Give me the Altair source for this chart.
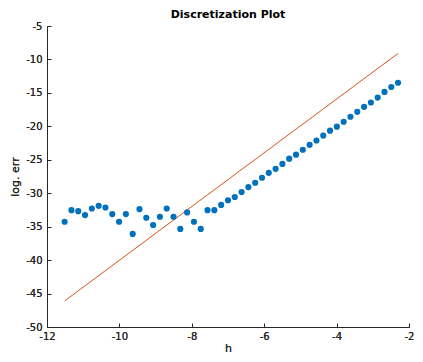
import altair as alt
import pandas as pd

h_vals = [-11.513, -11.325, -11.137, -10.949, -10.761, -10.573, -10.385, -10.197, -10.009, -9.821,
          -9.633, -9.445, -9.257, -9.069, -8.881, -8.693, -8.505, -8.317, -8.129, -7.941,
          -7.753, -7.565, -7.377, -7.189, -7.001, -6.813, -6.625, -6.437, -6.249, -6.061,
          -5.873, -5.685, -5.497, -5.309, -5.121, -4.933, -4.745, -4.557, -4.369, -4.181,
          -3.993, -3.805, -3.617, -3.429, -3.241, -3.053, -2.865, -2.677, -2.489, -2.303]
err_vals = [-34.26, -32.53, -32.68, -33.27, -32.28, -31.89, -32.13, -33.12, -34.26, -33.12,
            -36.08, -32.38, -33.67, -34.75, -33.52, -32.28, -33.52, -35.34, -32.87, -34.26,
            -35.34, -32.53, -32.53, -31.75, -31.05, -30.56, -29.82, -29.08, -28.43, -27.69,
            -26.95, -26.36, -25.62, -24.83, -24.24, -23.50, -22.76, -22.12, -21.38, -20.65,
            -20.05, -19.31, -18.57, -17.83, -17.09, -16.44, -15.70, -14.86, -14.12, -13.48]
ref_h = [-11.513, -2.303]
ref_err = [-46.1, -9.1]
x_ticks = [-12, -10, -8, -6, -4, -2]
y_ticks = [-50, -45, -40, -35, -30, -25, -20, -15, -10, -5]

pts = pd.DataFrame({"h": h_vals, "err": err_vals})
ref = pd.DataFrame({"h": ref_h, "err": ref_err})

FONT = "DejaVu Sans"
AX = "#262626"
xscale = alt.Scale(domain=[-12, -2], nice=False, zero=False)
yscale = alt.Scale(domain=[-50, -5], nice=False, zero=False)

xaxis = alt.Axis(values=x_ticks, title="h", labelExpr="'' + datum.value", tickSize=0, grid=False,
                 domainColor=AX, labelColor=AX, titleColor=AX, labelFontSize=10, titleFontSize=11,
                 titleFontWeight="normal", labelPadding=4, titlePadding=1, labelFont=FONT,
                 titleFont=FONT, labelFlush=False, orient="bottom")
yaxis = alt.Axis(values=y_ticks, title="log. err", labelExpr="'' + datum.value", tickSize=0, grid=False,
                 domainColor=AX, labelColor=AX, titleColor=AX, labelFontSize=10, titleFontSize=11,
                 titleFontWeight="normal", labelPadding=5, titlePadding=5, labelFont=FONT,
                 titleFont=FONT, labelFlush=False, orient="left")
xticks_ax = alt.Axis(values=x_ticks, title=None, labels=False, domain=False, grid=False,
                     tickSize=4, tickColor=AX, offset=-4, orient="bottom")
yticks_ax = alt.Axis(values=y_ticks, title=None, labels=False, domain=False, grid=False,
                     tickSize=4, tickColor=AX, offset=-4, orient="left")

line = alt.Chart(ref).mark_line(color="#D95319", strokeWidth=1).encode(
    x=alt.X("h:Q", scale=xscale, axis=xaxis),
    y=alt.Y("err:Q", scale=yscale, axis=yaxis),
)
dots = alt.Chart(pts).mark_circle(size=38, color="#0072BD", opacity=1).encode(
    x=alt.X("h:Q", scale=xscale, axis=xaxis),
    y=alt.Y("err:Q", scale=yscale, axis=yaxis),
)
ticks = alt.Chart(pts).mark_point(opacity=0).encode(
    x=alt.X("h:Q", scale=xscale, axis=xticks_ax),
    y=alt.Y("err:Q", scale=yscale, axis=yticks_ax),
)

chart = alt.layer(line, dots, ticks).resolve_axis(x="independent", y="independent").properties(
    width=362, height=301,
    autosize=alt.AutoSizeParams(type="none"),
    padding={"left": 39, "top": 18, "right": 6, "bottom": 27},
    title=alt.TitleParams("Discretization Plot", fontSize=11, fontWeight="bold", font=FONT,
                          color="#000000", offset=1, frame="group", anchor="middle"),
).configure_view(stroke=None)

chart.save("out.html", embed_options={"renderer": "svg", "actions": False})
